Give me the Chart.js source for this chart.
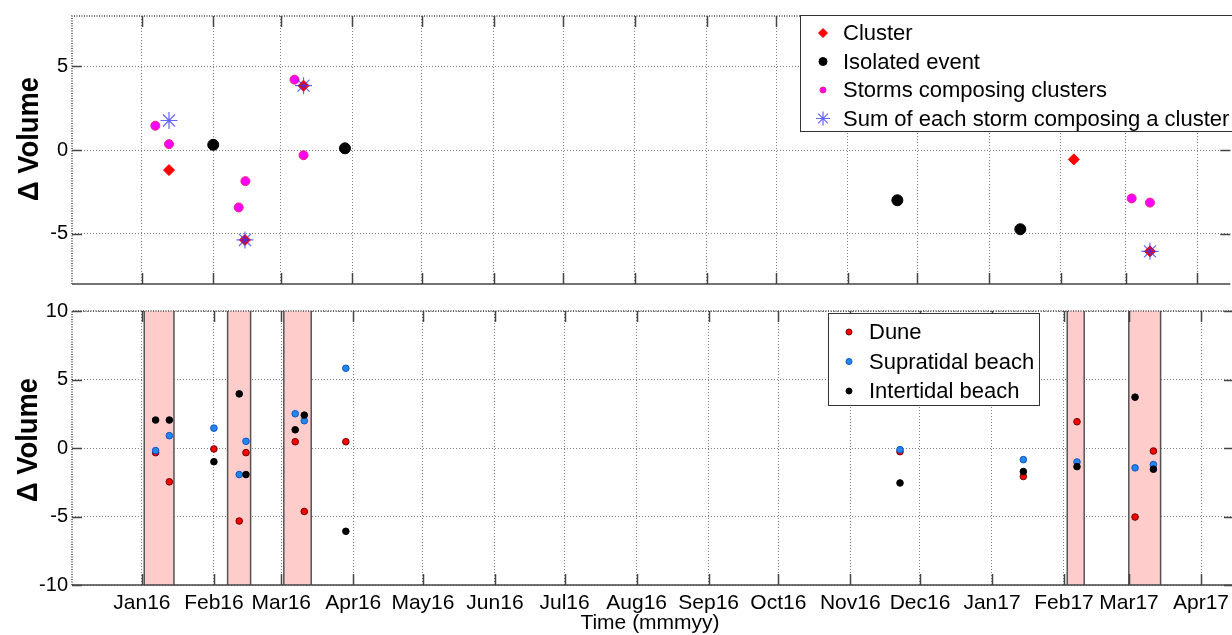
<!DOCTYPE html>
<html>
<head>
<meta charset="utf-8">
<script src="https://cdn.jsdelivr.net/npm/chart.js@4.4.1/dist/chart.umd.min.js"></script>
<style>
  html, body { margin: 0; padding: 0; background: #fff; overflow: hidden; }
  #wrap { position: relative; width: 1232px; height: 635px; overflow: hidden; }
  canvas { position: absolute; left: 0; }
  #topChart { top: 0; }
  #botChart { top: 295px; }
</style>
</head>
<body>
<div id="wrap">
  <canvas id="topChart" width="1240" height="300"></canvas>
  <canvas id="botChart" width="1240" height="340"></canvas>
</div>
<script>
// x values are days since 1 Jan 2016
var monthDays = [0, 31, 60, 91, 121, 152, 182, 213, 244, 274, 305, 335, 366, 397, 425, 456];
var monthLabels = ['Jan16', 'Feb16', 'Mar16', 'Apr16', 'May16', 'Jun16', 'Jul16', 'Aug16',
                   'Sep16', 'Oct16', 'Nov16', 'Dec16', 'Jan17', 'Feb17', 'Mar17', 'Apr17'];

// top panel
var clusterX  = [11.8, 44.6, 69.9, 402.6, 435.5];
var clusterY  = [-1.20, -5.37, 3.84, -0.56, -6.05];
var isolatedX = [30.9, 87.8, 326.4, 379.5];
var isolatedY = [0.31, 0.10, -3.00, -4.73];
var stormsX   = [5.9, 11.8, 41.9, 44.8, 66.0, 69.9, 427.6, 435.5];
var stormsY   = [1.45, 0.35, -3.43, -1.86, 4.20, -0.31, -2.89, -3.14];
var sumX      = [11.8, 44.6, 69.9, 435.5];
var sumY      = [1.76, -5.37, 3.84, -6.05];
var topTicks  = [-5, 0, 5];

// bottom panel
var eventX = [5.9, 11.8, 31.0, 41.9, 44.8, 66.0, 69.9, 87.8, 326.4, 379.5, 402.6, 427.6, 435.5];
var duneY  = [-0.34, -2.47, -0.07, -5.33, -0.34, 0.46, -4.63, 0.46, -0.27, -2.08, 1.92, -5.04, -0.22];
var supraY = [-0.19, 0.90, 1.45, -1.94, 0.49, 2.50, 1.99, 5.82, -0.12, -0.85, -1.02, -1.45, -1.21];
var interY = [2.04, 2.04, -1.00, 3.95, -1.94, 1.33, 2.40, -6.08, -2.55, -1.72, -1.36, 3.71, -1.55];
var bandStart = [1.0, 36.9, 61.1, 398.4, 424.9];
var bandEnd   = [13.8, 46.8, 72.9, 405.7, 438.6];
var botTicks  = [-10, -5, 0, 5, 10];

Chart.defaults.font.family = '"Liberation Sans", Arial, sans-serif';
Chart.defaults.color = '#000';

var FONT = '"Liberation Sans", Arial, sans-serif';
var GRID = 'rgba(60,60,60,0.65)';
var AXIS = '#444';

function points(xs, ys) {
    return xs.map(function (x, i) { return { x: x, y: ys[i] }; });
}

function marker(ctx, m, x, y) {
    ctx.save();
    ctx.fillStyle = m.fill;
    ctx.strokeStyle = m.stroke;
    ctx.lineWidth = m.bw;
    Chart.helpers.drawPoint(ctx, { pointStyle: m.style, radius: m.radius, rotation: 0, borderWidth: m.bw }, x, y);
    ctx.restore();
}

var framePlugin = {
    id: 'frame',
    beforeDatasetsDraw: function (chart, args, opts) {
        if (!opts.bandStart) return;
        var ctx = chart.ctx, sx = chart.scales.x, a = chart.chartArea;
        ctx.save();
        for (var i = 0; i < opts.bandStart.length; i++) {
            var x0 = sx.getPixelForValue(opts.bandStart[i]);
            var x1 = sx.getPixelForValue(opts.bandEnd[i]);
            ctx.fillStyle = '#ffcccc';
            ctx.fillRect(x0, a.top, x1 - x0, a.bottom - a.top);
            ctx.strokeStyle = '#555';
            ctx.lineWidth = 1.5;
            ctx.beginPath();
            ctx.moveTo(x0, a.top); ctx.lineTo(x0, a.bottom);
            ctx.moveTo(x1, a.top); ctx.lineTo(x1, a.bottom);
            ctx.stroke();
        }
        ctx.restore();
    },
    afterDraw: function (chart, args, opts) {
        var ctx = chart.ctx, a = chart.chartArea;
        var sx = chart.scales.x, sy = chart.scales.y;
        ctx.save();
        // frame: dotted top and left, solid bottom
        ctx.strokeStyle = AXIS;
        ctx.lineWidth = 1.5;
        ctx.setLineDash([1, 1.5]);
        ctx.beginPath();
        ctx.moveTo(a.left, a.bottom); ctx.lineTo(a.left, a.top); ctx.lineTo(a.right, a.top);
        ctx.stroke();
        ctx.setLineDash([]);
        ctx.beginPath();
        ctx.moveTo(a.left, a.bottom); ctx.lineTo(a.right, a.bottom);
        ctx.stroke();
        // inward ticks
        ctx.lineWidth = 1.5;
        ctx.beginPath();
        sx.ticks.forEach(function (t) {
            var px = Math.round(sx.getPixelForValue(t.value)) + 0.5;
            ctx.moveTo(px, a.bottom); ctx.lineTo(px, a.bottom - 11);
            ctx.moveTo(px, a.top); ctx.lineTo(px, a.top + 11);
        });
        sy.ticks.forEach(function (t) {
            var py = Math.round(sy.getPixelForValue(t.value)) + 0.5;
            ctx.moveTo(a.left, py); ctx.lineTo(a.left + 10, py);
            ctx.moveTo(a.right, py); ctx.lineTo(a.right - 10, py);
        });
        ctx.stroke();
        // y title
        ctx.translate(opts.titleX, opts.titleY);
        ctx.rotate(-Math.PI / 2);
        ctx.font = 'bold 30px ' + FONT;
        ctx.fillStyle = '#000';
        ctx.textAlign = 'center';
        ctx.textBaseline = 'middle';
        var w = ctx.measureText('\u0394 Volume').width;
        ctx.scale(124 / w, 1);
        ctx.fillText('\u0394 Volume', 0, 0);
        ctx.restore();

        // x title
        if (opts.xTitle) {
            ctx.save();
            ctx.font = '21px ' + FONT;
            ctx.fillStyle = '#000';
            ctx.textAlign = 'center';
            ctx.textBaseline = 'alphabetic';
            ctx.fillText(opts.xTitle, opts.xTitleX, opts.xTitleY);
            ctx.restore();
        }

        // legend
        var L = opts.legend;
        if (L) {
            ctx.save();
            ctx.fillStyle = '#fff';
            ctx.fillRect(L.x, L.y, L.w, L.h);
            ctx.strokeStyle = '#333';
            ctx.lineWidth = 1;
            ctx.strokeRect(L.x + 0.5, L.y + 0.5, L.w, L.h);
            ctx.font = '22px ' + FONT;
            ctx.textBaseline = 'middle';
            ctx.textAlign = 'left';
            L.items.forEach(function (it, i) {
                var cy = L.firstY + i * L.rowH;
                marker(ctx, it, L.markerX, cy);
                ctx.fillStyle = '#000';
                ctx.fillText(it.text, L.textX, cy + 1);
            });
            ctx.restore();
        }
    }
};

function makeOptions(yMin, yMax, yTicks, padTop, padBottom, xAxisHeight, showXLabels, frameOpts) {
    return {
        responsive: false,
        animation: false,
        events: [],
        layout: { padding: { top: padTop, right: 6, bottom: padBottom, left: 0 } },
        plugins: { legend: { display: false }, tooltip: { enabled: false }, frame: frameOpts },
        scales: {
            x: {
                type: 'linear',
                min: -30.1,
                max: 470.2,
                afterBuildTicks: function (scale) {
                    scale.ticks = monthDays.map(function (v) { return { value: v }; });
                },
                afterFit: function (scale) { scale.height = xAxisHeight; },
                ticks: {
                    display: showXLabels,
                    autoSkip: false,
                    maxRotation: 0,
                    padding: 6,
                    font: { size: 21 },
                    callback: function (v) {
                        var i = monthDays.indexOf(v);
                        return i >= 0 ? monthLabels[i] : '';
                    }
                },
                grid: { color: GRID, lineWidth: 1, drawTicks: false },
                border: { display: false, dash: [1, 2] }
            },
            y: {
                min: yMin,
                max: yMax,
                afterBuildTicks: function (scale) {
                    scale.ticks = yTicks.map(function (v) { return { value: v }; });
                },
                afterFit: function (scale) { scale.width = 72; },
                ticks: { padding: 4, font: { size: 20 } },
                grid: { color: GRID, lineWidth: 1, drawTicks: false },
                border: { display: false, dash: [1, 2] }
            }
        }
    };
}

// top panel
var clusterStyle  = { style: 'rectRot', radius: 5.5, fill: '#ff0000', stroke: '#ff0000', bw: 1 };
var isolatedStyle = { style: 'circle', radius: 5.5, fill: '#000000', stroke: '#000000', bw: 1 };
var stormsStyle   = { style: 'circle', radius: 4.5, fill: '#ff00ff', stroke: '#f0207a', bw: 1 };
var sumStyle      = { style: 'star', radius: 8.5, fill: 'rgba(0,0,0,0)', stroke: 'rgba(50,50,255,0.75)', bw: 1.2 };

function ds(label, xs, ys, st, order) {
    return {
        label: label,
        data: points(xs, ys),
        pointStyle: st.style,
        pointRadius: st.radius,
        pointBackgroundColor: st.fill,
        pointBorderColor: st.stroke,
        pointBorderWidth: st.bw,
        showLine: false,
        order: order
    };
}

new Chart(document.getElementById('topChart'), {
    type: 'scatter',
    data: {
        datasets: [
            ds('Cluster', clusterX, clusterY, clusterStyle, 4),
            ds('Isolated event', isolatedX, isolatedY, isolatedStyle, 3),
            ds('Storms composing clusters', stormsX, stormsY, stormsStyle, 2),
            ds('Sum of each storm composing a cluster', sumX, sumY, sumStyle, 1)
        ]
    },
    options: makeOptions(-8, 8, topTicks, 13, 12, 0, false, {
        titleX: 30, titleY: 139,
        legend: {
            x: 800, y: 15, w: 432, h: 116, markerX: 823, textX: 843, firstY: 33, rowH: 28.5,
            items: [
                Object.assign({ text: 'Cluster' }, clusterStyle, { radius: 4.5 }),
                Object.assign({ text: 'Isolated event' }, isolatedStyle, { radius: 4 }),
                Object.assign({ text: 'Storms composing clusters' }, stormsStyle, { radius: 3 }),
                Object.assign({ text: 'Sum of each storm composing a cluster' }, sumStyle, { radius: 7 })
            ]
        }
    }),
    plugins: [framePlugin]
});

// bottom panel
var duneStyle  = { style: 'circle', radius: 3.3, fill: '#ff0000', stroke: '#6a0000', bw: 1 };
var supraStyle = { style: 'circle', radius: 3.3, fill: '#2288e8', stroke: '#1050d0', bw: 1 };
var interStyle = { style: 'circle', radius: 3.3, fill: '#000000', stroke: '#000000', bw: 1 };

new Chart(document.getElementById('botChart'), {
    type: 'scatter',
    data: {
        datasets: [
            ds('Dune', eventX, duneY, duneStyle, 3),
            ds('Supratidal beach', eventX, supraY, supraStyle, 2),
            ds('Intertidal beach', eventX, interY, interStyle, 1)
        ]
    },
    options: makeOptions(-10, 10, botTicks, 15, 0, 50, true, {
        bandStart: bandStart, bandEnd: bandEnd,
        titleX: 29, titleY: 145,
        xTitle: 'Time (mmmyy)', xTitleX: 650, xTitleY: 334,
        legend: {
            x: 828, y: 18, w: 211, h: 92, markerX: 849, textX: 869, firstY: 37, rowH: 29.5,
            items: [
                Object.assign({ text: 'Dune' }, duneStyle, { radius: 3 }),
                Object.assign({ text: 'Supratidal beach' }, supraStyle, { radius: 3 }),
                Object.assign({ text: 'Intertidal beach' }, interStyle, { radius: 3 })
            ]
        }
    }),
    plugins: [framePlugin]
});
</script>
</body>
</html>
